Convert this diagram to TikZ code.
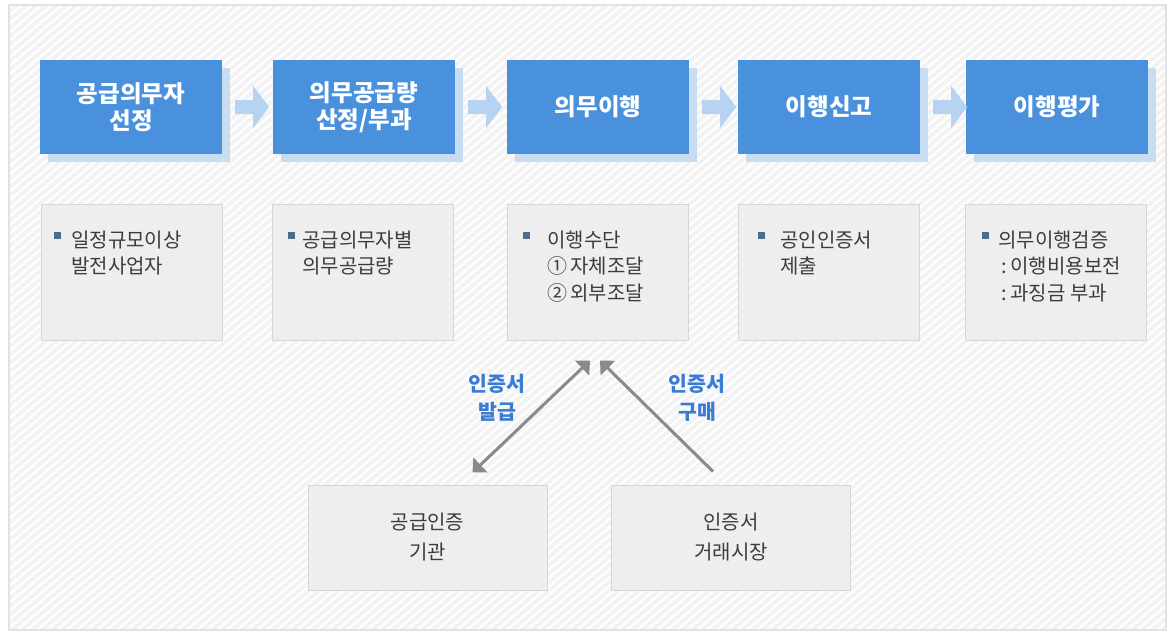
\documentclass[tikz,border=0pt]{standalone}
\usepackage{fontspec}
\setmainfont{Noto Sans CJK KR}
\usetikzlibrary{calc,arrows.meta,shadows}
\definecolor{bluebox}{RGB}{74,145,221}
\definecolor{shadowc}{RGB}{200,220,242}
\definecolor{fatc}{RGB}{182,212,242}
\definecolor{grayfill}{RGB}{238,238,238}
\definecolor{grayline}{RGB}{214,214,214}
\definecolor{textgray}{RGB}{60,60,60}
\definecolor{bulletc}{RGB}{78,108,138}
\definecolor{labelblue}{RGB}{58,124,212}
\definecolor{connc}{RGB}{138,138,140}
\definecolor{stripec}{RGB}{243,243,243}
\definecolor{framec}{RGB}{226,226,226}
\tikzset{
  bluestep/.style={rectangle, fill=bluebox, minimum width=182pt, minimum height=94pt, inner sep=0pt,
    text=white, align=center, font=\fontsize{23.5}{27}\selectfont\bfseries,
    drop shadow={shadow xshift=8pt, shadow yshift=-8pt, fill=shadowc, opacity=1}},
  graybox/.style={rectangle, fill=grayfill, draw=grayline, line width=1pt, minimum width=181pt, minimum height=136pt, inner sep=0pt},
  lowbox/.style={rectangle, fill=grayfill, draw=grayline, line width=1pt, minimum width=239pt, minimum height=105pt, inner sep=0pt,
    text=textgray, align=center, font=\fontsize{20}{30}\selectfont},
  boxtext/.style={anchor=north west, inner sep=0pt, text=textgray, align=left, font=\fontsize{20}{26.5}\selectfont},
  lbl/.style={text=labelblue, align=center, font=\fontsize{20.5}{28}\selectfont\bfseries},
  fatarrow/.style={fill=fatc},
  bulletsq/.style={fill=bulletc},
  conn/.style={draw=connc, line width=3pt},
  stripe/.style={draw=stripec, line width=4pt}
}
\begin{document}
\begin{tikzpicture}[x=1pt,y=-1pt]
\useasboundingbox (0,0) rectangle (1174,634);
\fill[white] (0,0) rectangle (1174,634);
% striped background
\begin{scope}
  \clip (9,5) rectangle (1166,630);
  \foreach \i in {-770,-760,...,1180} {
    \draw[stripe] (\i,640) -- ({\i+763},0);
  }
\end{scope}
\draw[framec, line width=1.5pt] (9,5) rectangle (1166,630);

% top row
\node[bluestep] (b1) at (131,107) {공급의무자\\선정};
\node[bluestep] (b2) at (364,107) {의무공급량\\산정/부과};
\node[bluestep] (b3) at (598,107) {의무이행};
\node[bluestep] (b4) at (829,107) {이행신고};
\node[bluestep] (b5) at (1057,107) {이행평가};

% fat arrows
\foreach \a in {b1,b2,b3,b4} {
  \fill[fatarrow] ($(\a.east)+(13,7)$) -- ++(18,0) -- ++(0,14) -- ++(16,-21) -- ++(-16,-21) -- ++(0,14) -- ++(-18,0) -- cycle;
}

% gray boxes
\node[graybox] (g1) at (132,272) {};
\node[graybox] (g2) at (363,272) {};
\node[graybox] (g3) at (598,272) {};
\node[graybox] (g4) at (829,272) {};
\node[graybox] (g5) at (1056,272) {};

\fill[bulletsq] ($(g1.north west)+(13,28)$) rectangle ++(7,7);
\fill[bulletsq] ($(g2.north west)+(16,28)$) rectangle ++(7,7);
\fill[bulletsq] ($(g3.north west)+(16,28)$) rectangle ++(7,7);
\fill[bulletsq] ($(g4.north west)+(20,28)$) rectangle ++(7,7);
\fill[bulletsq] ($(g5.north west)+(17,28)$) rectangle ++(7,7);

\node[boxtext] (t1) at ($(g1.north west)+(30,27)$) {일정규모이상\\발전사업자};
\node[boxtext] (t2) at ($(g2.north west)+(30,27)$) {공급의무자별\\의무공급량};
\node[boxtext] (t3) at ($(g3.north west)+(40,27)$) {이행수단\\①\,자체조달\\②\,외부조달};
\node[boxtext] (t4) at ($(g4.north west)+(42,27)$) {공인인증서\\제출};
\node[boxtext] (t5) at ($(g5.north west)+(33,27)$) {의무이행검증\\\,:\,이행비용보전\\\,:\,과징금 부과};

% bottom boxes
\node[lowbox] (k1) at (427.5,537.5) {공급인증\\기관};
\node[lowbox] (k2) at (731,537.5) {인증서\\거래시장};

% connectors
\coordinate (q1) at ($(k1.north)+(45,-12)$);
\coordinate (q2) at ($(g3.south)+(-8,20)$);
\coordinate (q3) at ($(k2.north)+(-18,-13)$);
\coordinate (q4) at ($(g3.south)+(2,20)$);
\draw[conn, {Triangle[length=11pt,width=20pt]}-{Triangle[length=11pt,width=20pt]}] (q1) -- (q2);
\draw[conn, -{Triangle[length=11pt,width=20pt]}] (q3) -- (q4);

\node[lbl] (l1) at (497,398) {인증서\\발급};
\node[lbl] (l2) at (697,398) {인증서\\구매};
\end{tikzpicture}
\end{document}
